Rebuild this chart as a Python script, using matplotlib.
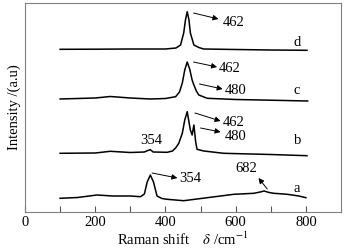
import matplotlib.pyplot as plt

plt.rcParams.update({
    'font.family': 'Liberation Serif',
    'mathtext.fontset': 'stix',
    'font.size': 10.5,
})

# curve a
a_x = [100, 150, 205, 250, 300, 329, 340, 348, 357, 366, 376, 390, 405, 452, 519, 595, 652, 670, 681, 695, 709, 747, 780, 800]
a_y = [13.7, 14.5, 17, 16, 16, 15.3, 18, 30, 37, 30, 16, 13.5, 12.7, 11.3, 14.3, 17.7, 18.7, 20, 21, 19.5, 18.7, 17.7, 16, 14.3]

# curve b
b_x = [100, 200, 243, 300, 340, 350, 357, 365, 405, 420, 429, 438, 448, 455, 462, 467, 471, 476, 481, 486, 490, 509, 566, 700, 803]
b_y = [58.7, 59, 60.7, 59.5, 60, 61.5, 62.3, 60, 59.7, 61, 64, 68.7, 78.7, 92, 100.3, 90, 82, 77, 87, 70.3, 62.7, 61, 58.7, 57.5, 56.3]

# curve c
c_x = [100, 200, 243, 300, 357, 400, 429, 440, 448, 455, 462, 469, 476, 481, 488, 495, 519, 600, 700, 805]
c_y = [113, 114, 115.5, 114, 113, 113.5, 115.3, 120, 129, 142, 150, 143, 132, 127, 121, 117, 113.7, 112.5, 111.8, 111]

# curve d
d_x = [100, 200, 300, 400, 430, 443, 452, 457, 462, 467, 471, 481, 495, 509, 600, 700, 803]
d_y = [162.7, 162.8, 163, 163, 164, 167, 179, 192, 200.3, 192, 179, 167, 164.5, 163, 162.5, 162, 161.7]

fig = plt.figure(figsize=(3.46, 2.48), dpi=100)
ax = fig.add_axes([25/346, 36/248, 316/346, 209/248])

for xs, ys in [(a_x, a_y), (b_x, b_y), (c_x, c_y), (d_x, d_y)]:
    ax.plot(xs, ys, color='black', lw=1.1)

arw = dict(arrowstyle='-|>', color='black', lw=0.7, mutation_scale=8, shrinkA=0, shrinkB=0)

# d
ax.annotate('', xy=(551, 193), xytext=(480, 199), arrowprops=arw)
ax.text(563, 189, '462', va='center')
ax.text(766, 170, 'd', va='center')
# c
ax.annotate('', xy=(547, 145), xytext=(480, 150), arrowprops=arw)
ax.text(552, 143, '462', va='center')
ax.annotate('', xy=(563, 123), xytext=(497, 128), arrowprops=arw)
ax.text(569, 122, '480', va='center')
ax.text(766, 121, 'c', va='center')
# b
ax.annotate('', xy=(557, 91), xytext=(484, 99), arrowprops=arw)
ax.text(563, 89, '462', va='center')
ax.annotate('', xy=(557, 80), xytext=(500, 84), arrowprops=arw)
ax.text(569, 76, '480', va='center')
ax.text(360, 72, '354', va='center', ha='center')
ax.text(766, 71, 'b', va='center')
# a
ax.annotate('', xy=(434, 34), xytext=(362, 39), arrowprops=arw)
ax.text(440, 33, '354', va='center')
ax.annotate('', xy=(665, 34), xytext=(690, 23), arrowprops=arw)
ax.text(629, 44, '682', va='center', ha='center')
ax.text(766, 24, 'a', va='center')

ax.set_xlim(0, 900)
ax.set_ylim(0, 209)
ax.set_xticks([0, 200, 400, 600, 800])
ax.set_xticks([100, 300, 500, 700], minor=True)
ax.set_yticks([])
ax.tick_params(axis='x', which='both', direction='in', length=4, width=0.8, color='#555555', pad=3)
for s in ax.spines.values():
    s.set_color('#808080')
    s.set_linewidth(0.8)

ax.set_xlabel('Raman shift    $\\delta$ /cm$^{-1}$', labelpad=1)
ax.set_ylabel('Intensity /(a.u)', labelpad=3)

fig.savefig('out.png', dpi=100)
